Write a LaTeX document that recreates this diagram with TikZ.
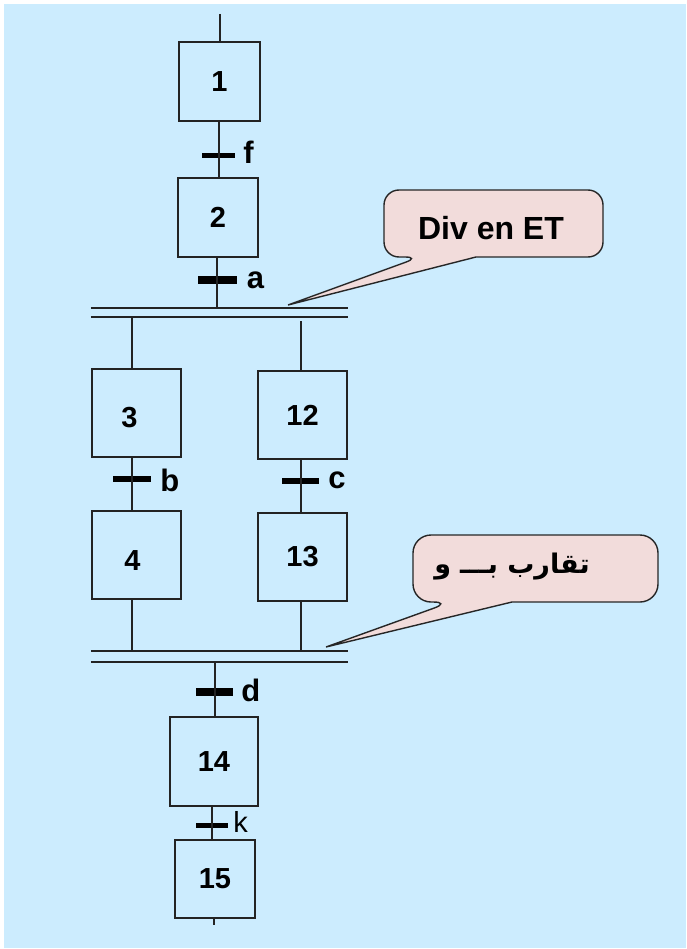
\documentclass[tikz,border=0pt]{standalone}
\usepackage{fontspec}
\setmainfont{Liberation Sans}
\newfontfamily\arabicfont[Script=Arabic]{DejaVu Sans}
\TeXXeTstate=1
\usetikzlibrary{calc}
\definecolor{bgblue}{RGB}{204,236,254}
\definecolor{bubblepink}{RGB}{242,220,219}
\definecolor{linegray}{RGB}{35,35,35}
\tikzset{
  stepfont/.style={font=\fontsize{29}{33}\selectfont\bfseries},
  stepbox/.style={draw=linegray, line width=2pt, inner sep=0pt, stepfont},
  steptext/.style={inner sep=0pt, stepfont},
  trbar/.style={fill=black, draw=none, inner sep=0pt, minimum height=#1},
  trlbl/.style={anchor=west, inner sep=0pt, font=\fontsize{31}{34}\selectfont\bfseries},
  link/.style={draw=linegray, line width=2pt},
  dbar/.style={draw=linegray, line width=2pt},
  bubble/.style={draw=black!85, line width=1.4pt, fill=bubblepink},
}
\begin{document}
\begin{tikzpicture}[x=1pt,y=1pt]
\useasboundingbox (0,0) rectangle (686,-949);
\fill[bgblue] (3.5,-4) rectangle (686,-948);

% steps
\node[stepbox, minimum width=81, minimum height=79] (s1) at (219.5,-81.5) {1};
\node[stepbox, minimum width=80, minimum height=79] (s2) at (218,-217.5) {2};
\node[stepbox, minimum width=89, minimum height=88] (s3) at (136.5,-413) {};
\node[steptext] (s3t) at ($(s3)+(-7,-5)$) {3};
\node[stepbox, minimum width=89, minimum height=88] (s12) at (302.5,-415) {12};
\node[stepbox, minimum width=89, minimum height=88] (s4) at (136.5,-555) {};
\node[steptext] (s4t) at ($(s4)+(-4,-6)$) {4};
\node[stepbox, minimum width=89, minimum height=88] (s13) at (302.5,-557) {13};
\node[stepbox, minimum width=88, minimum height=89] (s14) at (214,-761.5) {14};
\node[stepbox, minimum width=80, minimum height=78] (s15) at (215,-879) {15};

% transitions
\node[trbar=5, minimum width=33] (tf) at (218.5,-156) {};
\node[trbar=8, minimum width=39] (ta) at (217,-280) {};
\node[trbar=6, minimum width=38] (tb) at (132,-479) {};
\node[trbar=6, minimum width=37] (tc) at (300.5,-481) {};
\node[trbar=8, minimum width=37] (td) at (214.5,-692) {};
\node[trbar=5, minimum width=32] (tk) at (212,-825) {};

\node[trlbl] (lf) at ($(tf.east)+(8,4)$) {f};
\node[trlbl] (la) at ($(ta.east)+(10,0)$) {a};
\node[trlbl] (lb) at ($(tb.east)+(9,-1)$) {b};
\node[trlbl] (lc) at ($(tc.east)+(9,1)$) {c};
\node[trlbl] (ld) at ($(td.east)+(8,2)$) {d};
\node[trlbl, font=\fontsize{29}{32}\selectfont] (lk) at ($(tk.east)+(5,3)$) {k};

% double bars
\node[inner sep=0pt, minimum width=257, minimum height=9] (div) at (219.5,-312.5) {};
\node[inner sep=0pt, minimum width=257, minimum height=11] (conv) at (219.5,-656.5) {};
\draw[dbar] (div.north west) -- (div.north east);
\draw[dbar] (div.south west) -- (div.south east);
\draw[dbar] (conv.north west) -- (conv.north east);
\draw[dbar] (conv.south west) -- (conv.south east);

% connectors
\coordinate (start) at (220,-14);
\coordinate (finish) at (214,-925);
\draw[link] (start) -- (start |- s1.north);
\draw[link] (tf.center |- s1.south) -- (tf.center) -- (tf.center |- s2.north);
\draw[link] (ta.center |- s2.south) -- (ta.center) -- (ta.center |- div.north);
\draw[link] (tb.center |- div.south) -- (tb.center |- s3.north);
\draw[link] ($(tc.center |- div.south)+(0,-4)$) -- (tc.center |- s12.north);
\draw[link] (tb.center |- s3.south) -- (tb.center) -- (tb.center |- s4.north);
\draw[link] (tc.center |- s12.south) -- (tc.center) -- (tc.center |- s13.north);
\draw[link] (tb.center |- s4.south) -- (tb.center |- conv.north);
\draw[link] (tc.center |- s13.south) -- (tc.center |- conv.north);
\draw[link] (td.center |- conv.south) -- (td.center) -- (td.center |- s14.north);
\draw[link] (tk.center |- s14.south) -- (tk.center) -- (tk.center |- s15.north);
\draw[link] (finish |- s15.south) -- (finish);

% callout 1
\coordinate (tip1) at (288,-305);
\draw[bubble] (tip1) -- (476,-257) -- (580,-257) [rounded corners=15pt] -- (603,-257) -- (603,-190) -- (384,-190) -- (384,-257) -- (420,-257) [sharp corners] -- cycle;
\node[font=\fontsize{32}{36}\selectfont\bfseries, inner sep=0pt] (c1) at (491,-228) {Div en ET};

% callout 2
\coordinate (tip2) at (326,-647);
\draw[bubble] (tip2) -- (512,-602) -- (620,-602) [rounded corners=18pt] -- (658,-602) -- (658,-535) -- (413,-535) -- (413,-602) -- (451,-602) [sharp corners] -- cycle;
\node[font=\fontsize{27}{32}\arabicfont\bfseries, inner sep=0pt] (c2) at (512,-567) {\beginR تقارب بـــ\hspace{9pt}و\endR};
\end{tikzpicture}
\end{document}
